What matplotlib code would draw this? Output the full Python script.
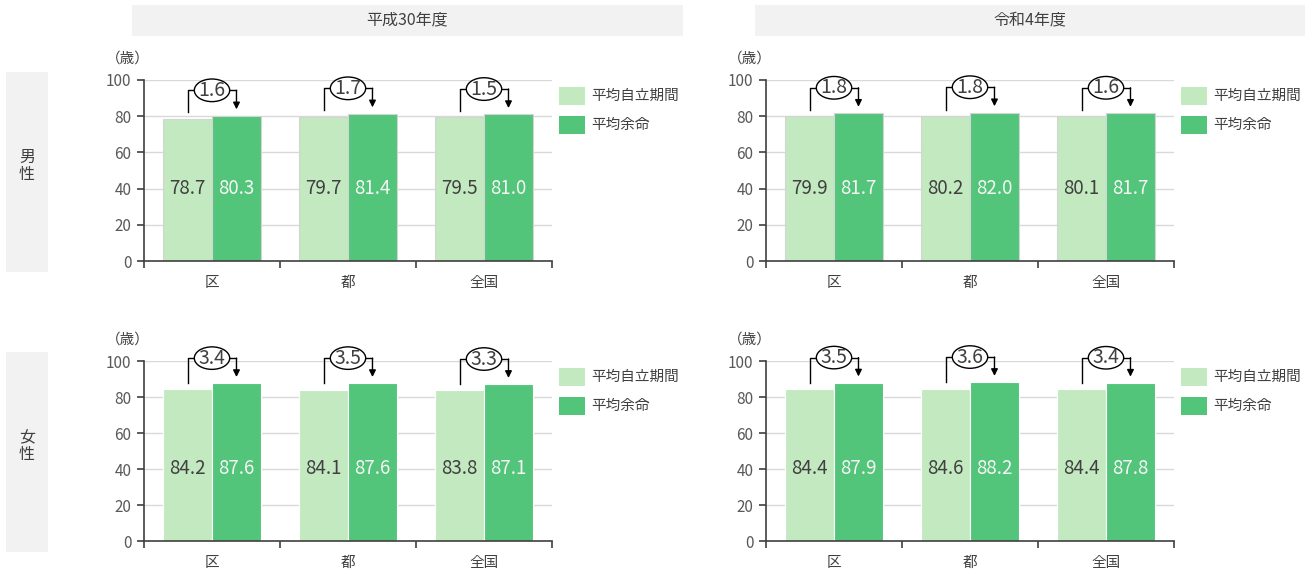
import matplotlib
matplotlib.use("Agg")
import matplotlib.pyplot as plt
from matplotlib.patches import Rectangle, Ellipse

plt.rcParams['font.family'] = ['Noto Sans CJK JP', 'DejaVu Sans']

regions = ['区', '都', '全国']
periods = ['平成30年度', '令和4年度']
sexes = ['男性', '女性']
legend_labels = ['平均自立期間', '平均余命']

# 平成30年度
male_h30_indep = [78.7, 79.7, 79.5]
male_h30_life = [80.3, 81.4, 81.0]
male_h30_diff = [1.6, 1.7, 1.5]
female_h30_indep = [84.2, 84.1, 83.8]
female_h30_life = [87.6, 87.6, 87.1]
female_h30_diff = [3.4, 3.5, 3.3]
# 令和4年度
male_r4_indep = [79.9, 80.2, 80.1]
male_r4_life = [81.7, 82.0, 81.7]
male_r4_diff = [1.8, 1.8, 1.6]
female_r4_indep = [84.4, 84.6, 84.4]
female_r4_life = [87.9, 88.2, 87.8]
female_r4_diff = [3.5, 3.6, 3.4]

yticks = [0, 20, 40, 60, 80, 100]

LIGHT = '#c3e9c0'
DARK = '#52c57a'
TXT = '#404040'
TICK = '#595959'
GRID = '#d9d9d9'
BOX = '#f2f2f2'

W, H = 1312, 571
fig = plt.figure(figsize=(W / 100, H / 100), dpi=100)

def fx(px):
    return px / W

def fy(py):
    return 1 - py / H

panels = [
    (male_h30_indep, male_h30_life, male_h30_diff, 144, 80, 261),
    (male_r4_indep, male_r4_life, male_r4_diff, 766, 80, 261),
    (female_h30_indep, female_h30_life, female_h30_diff, 144, 361, 541),
    (female_r4_indep, female_r4_life, female_r4_diff, 766, 361, 541),
]

bw = 0.36
for idx, (indep, life, diff, xl, yt, yb) in enumerate(panels):
    ax = fig.add_axes([fx(xl), fy(yb), fx(408), (yb - yt) / H])
    xs = list(range(len(regions)))
    edge = '#d4d4d4' if idx < 2 else 'white'
    ax.bar([x - bw / 2 for x in xs], indep, width=bw, color=LIGHT,
           edgecolor=edge, linewidth=0.8, zorder=2)
    ax.bar([x + bw / 2 for x in xs], life, width=bw, color=DARK,
           edgecolor=edge, linewidth=0.8, zorder=2)
    ax.set_xlim(-0.5, 2.5)
    ax.set_ylim(0, 100)
    ax.set_yticks(yticks)
    ax.yaxis.grid(True, color=GRID, linewidth=1, zorder=0)
    ax.set_axisbelow(True)
    for s in ['top', 'right']:
        ax.spines[s].set_visible(False)
    for s in ['left', 'bottom']:
        ax.spines[s].set_color(TXT)
        ax.spines[s].set_linewidth(1.2)
    ax.set_xticks([-0.5, 0.5, 1.5, 2.5])
    ax.set_xticklabels([])
    ax.set_xticks(xs, minor=True)
    ax.set_xticklabels(regions, minor=True)
    ax.tick_params(axis='x', which='major', length=5, color=TXT, width=1.2)
    ax.tick_params(axis='x', which='minor', length=0, pad=11,
                   labelsize=10.5, labelcolor=TXT)
    ax.tick_params(axis='y', length=5, color=TXT, width=1.2, pad=4,
                   labelsize=11, labelcolor=TICK)
    for x, a, b, d in zip(xs, indep, life, diff):
        ax.text(x - bw / 2, 40, f'{a:.1f}', ha='center', va='center',
                fontsize=13.5, color=TXT, zorder=4)
        ax.text(x + bw / 2, 40, f'{b:.1f}', ha='center', va='center',
                fontsize=13.5, color='#f5f5f5', zorder=4)
        top = b + 14
        ew = 0.26
        ax.plot([x - bw / 2, x - bw / 2, x - ew / 2], [a + 3.5, top, top],
                color='black', lw=1, clip_on=False, zorder=5)
        ax.plot([x + ew / 2, x + bw / 2], [top, top],
                color='black', lw=1, clip_on=False, zorder=5)
        ax.annotate('', xy=(x + bw / 2, b + 3.5), xytext=(x + bw / 2, top),
                    arrowprops=dict(arrowstyle='-|>', color='black', lw=1,
                                    mutation_scale=10, shrinkA=0, shrinkB=0),
                    annotation_clip=False, zorder=5)
        ax.add_patch(Ellipse((x, top), ew, 12.5, facecolor='white',
                             edgecolor='black', lw=1, clip_on=False, zorder=6))
        ax.text(x, top, f'{d:.1f}', ha='center', va='center', fontsize=14,
                color=TXT, zorder=7, clip_on=False)
    fig.text(fx(xl - 16), fy(yt - 21), '（歳）', ha='center', va='center',
             fontsize=10.5, color=TXT)
    # legend
    lx = xl + 415
    for k, (lab, col) in enumerate(zip(legend_labels, [LIGHT, DARK])):
        cy = yt + 16 + 29 * k
        fig.add_artist(Rectangle((fx(lx), fy(cy + 9)), fx(26), 18 / H,
                                 facecolor=col, edgecolor='none',
                                 transform=fig.transFigure))
        fig.text(fx(lx + 32), fy(cy), lab, ha='left', va='center',
                 fontsize=10.5, color=TXT)

# headers
for (x0, x1), lab in zip([(132, 683), (755, 1305)], periods):
    fig.add_artist(Rectangle((fx(x0), fy(36)), fx(x1 - x0), 31 / H,
                             facecolor=BOX, edgecolor='none',
                             transform=fig.transFigure))
    fig.text(fx((x0 + x1) / 2), fy(20), lab, ha='center', va='center',
             fontsize=11.5, color=TXT)

# row labels
for (y0, y1), lab in zip([(72, 272), (352, 552)], sexes):
    fig.add_artist(Rectangle((fx(6), fy(y1)), fx(42), (y1 - y0) / H,
                             facecolor=BOX, edgecolor='none',
                             transform=fig.transFigure))
    fig.text(fx(27), fy((y0 + y1) / 2 - 6), '\n'.join(lab), ha='center',
             va='center', fontsize=11.5, color=TXT, linespacing=0.95)

fig.savefig('out.png', dpi=100)
